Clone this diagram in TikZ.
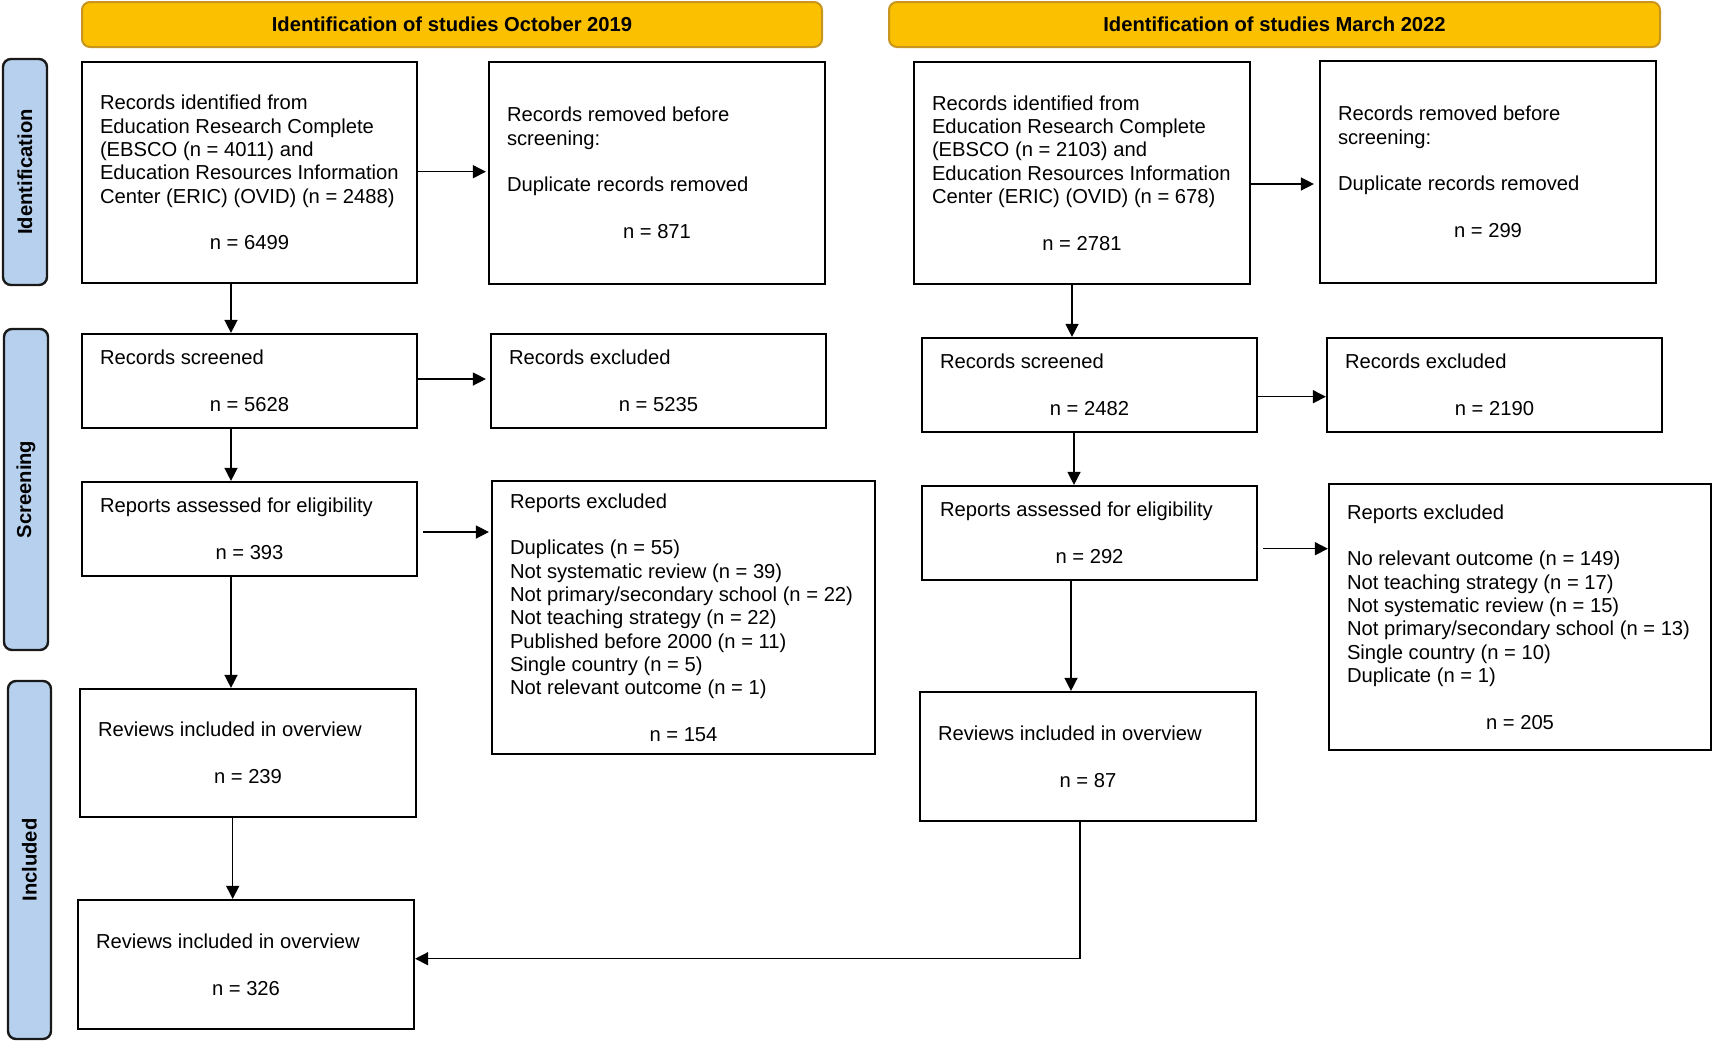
\documentclass[tikz,border=0pt]{standalone}
\usepackage{fontspec}
\setmainfont{Liberation Sans}
\usetikzlibrary{arrows.meta}
\definecolor{hdrfill}{RGB}{251,192,0}
\definecolor{hdrline}{RGB}{200,150,30}
\definecolor{phfill}{RGB}{182,208,238}
\definecolor{phline}{RGB}{25,25,25}
\newcommand\ncount[2]{\makebox[#1]{#2}}
\begin{document}
\begin{tikzpicture}[x=0.5pt,y=-0.5pt,
  bodyfont/.style={font=\fontsize{10.1pt}{11.67pt}\selectfont},
  box/.style={draw=black, line width=1.1pt, align=left, inner xsep=9pt, inner ysep=0pt, bodyfont},
  hdr/.style={draw=hdrline, fill=hdrfill, line width=1pt, rounded corners=4pt, inner sep=0pt,
    font=\bfseries\fontsize{10.1pt}{12pt}\selectfont},
  phase/.style={draw=phline, fill=phfill, line width=1.2pt, rounded corners=4pt, inner sep=0pt,
    rotate=90, font=\bfseries\fontsize{10.1pt}{12pt}\selectfont},
  arr/.style={line width=0.7pt, -{Triangle[length=6.5pt,width=6.5pt]}},
  conn/.style={line width=0.7pt}
]
\useasboundingbox (0,0) rectangle (1713,1041);

% headers
\node[hdr, minimum width=370pt, minimum height=22.5pt] (h1) at (452,24.5) {Identification of studies October 2019};
\node[hdr, minimum width=385.5pt, minimum height=22.5pt] (h2) at (1274.5,24.5) {Identification of studies March 2022};

% phase labels
\node[phase, minimum width=113pt, minimum height=22pt] (p1) at (25,172) {Identification};
\node[phase, minimum width=160.5pt, minimum height=22pt] (p2) at (26,489.5) {Screening};
\node[phase, minimum width=179pt, minimum height=21.5pt] (p3) at (29.5,860) {Included};

% left column
\node[box, minimum width=167.5pt, minimum height=110.5pt] (L1) at (249.5,172.5)
 {Records identified from\\Education Research Complete\\(EBSCO (n = 4011) and\\Education Resources Information\\Center (ERIC) (OVID) (n = 2488)\\[11.67pt]\ncount{149.5pt}{n = 6499}};
\node[box, minimum width=168pt, minimum height=111pt] (L1r) at (657,173)
 {Records removed before\\screening:\\[11.67pt]Duplicate records removed\\[11.67pt]\ncount{150pt}{n = 871}};
\node[box, minimum width=167.5pt, minimum height=47pt] (L2) at (249.5,381)
 {Records screened\\[11.67pt]\ncount{149.5pt}{n = 5628}};
\node[box, minimum width=167.5pt, minimum height=47pt] (L2r) at (658.5,381)
 {Records excluded\\[11.67pt]\ncount{149.5pt}{n = 5235}};
\node[box, minimum width=167.5pt, minimum height=47pt] (L3) at (249.5,529)
 {Reports assessed for eligibility\\[11.67pt]\ncount{149.5pt}{n = 393}};
\node[box, minimum width=191.5pt, minimum height=136.5pt] (L3r) at (683.5,617.5)
 {Reports excluded\\[11.67pt]Duplicates (n = 55)\\Not systematic review (n = 39)\\Not primary/secondary school (n = 22)\\Not teaching strategy (n = 22)\\Published before 2000 (n = 11)\\Single country (n = 5)\\Not relevant outcome (n = 1)\\[11.67pt]\ncount{173.5pt}{n = 154}};
\node[box, minimum width=168pt, minimum height=64pt] (L4) at (248,753)
 {Reviews included in overview\\[11.67pt]\ncount{150pt}{n = 239}};
\node[box, minimum width=168pt, minimum height=64.5pt] (L5) at (246,964.5)
 {Reviews included in overview\\[11.67pt]\ncount{150pt}{n = 326}};

% right column
\node[box, minimum width=168pt, minimum height=111pt] (R1) at (1082,173)
 {Records identified from\\Education Research Complete\\(EBSCO (n = 2103) and\\Education Resources Information\\Center (ERIC) (OVID) (n = 678)\\[11.67pt]\ncount{150pt}{n = 2781}};
\node[box, minimum width=168pt, minimum height=111pt] (R1r) at (1488,172)
 {Records removed before\\screening:\\[11.67pt]Duplicate records removed\\[11.67pt]\ncount{150pt}{n = 299}};
\node[box, minimum width=167.5pt, minimum height=47pt] (R2) at (1089.5,385)
 {Records screened\\[11.67pt]\ncount{149.5pt}{n = 2482}};
\node[box, minimum width=167.5pt, minimum height=47pt] (R2r) at (1494.5,385)
 {Records excluded\\[11.67pt]\ncount{149.5pt}{n = 2190}};
\node[box, minimum width=167.5pt, minimum height=47pt] (R3) at (1089.5,533)
 {Reports assessed for eligibility\\[11.67pt]\ncount{149.5pt}{n = 292}};
\node[box, minimum width=191pt, minimum height=133pt] (R3r) at (1520,617)
 {Reports excluded\\[11.67pt]No relevant outcome (n = 149)\\Not teaching strategy (n = 17)\\Not systematic review (n = 15)\\Not primary/secondary school (n = 13)\\Single country (n = 10)\\Duplicate (n = 1)\\[11.67pt]\ncount{173pt}{n = 205}};
\node[box, minimum width=168pt, minimum height=64.5pt] (R4) at (1088,756.5)
 {Reviews included in overview\\[11.67pt]\ncount{150pt}{n = 87}};

% guide coordinates
\coordinate (xL) at (231,0);
\coordinate (xL4) at (232.7,0);
\coordinate (xR1) at (1072,0);
\coordinate (xR2) at (1074,0);
\coordinate (xR3) at (1071,0);
\coordinate (xR4) at (1080,0);
\coordinate (yA1) at (0,171.7);
\coordinate (yA2) at (0,379);
\coordinate (yA3) at (0,532);
\coordinate (yB1) at (0,184);
\coordinate (yB2) at (0,396.7);
\coordinate (yB3) at (0,548.7);
\coordinate (yC) at (0,958.7);

% horizontal arrows
\draw[arr, shorten >=1pt] (L1.east |- yA1) -- (L1r.west |- yA1);
\draw[arr, shorten >=2pt] (L2.east |- yA2) -- (L2r.west |- yA2);
\draw[arr, shorten <=2.5pt, shorten >=1pt] (L3.east |- yA3) -- (L3r.west |- yA3);
\draw[arr, shorten >=2.5pt] (R1.east |- yB1) -- (R1r.west |- yB1);
\draw[arr] (R2.east |- yB2) -- (R2r.west |- yB2);
\draw[arr, shorten <=2.5pt] (R3.east |- yB3) -- (R3r.west |- yB3);

% vertical arrows
\draw[arr] (L1.south -| xL) -- (L2.north -| xL);
\draw[arr] (L2.south -| xL) -- (L3.north -| xL);
\draw[arr] (L3.south -| xL) -- (L4.north -| xL);
\draw[arr] (L4.south -| xL4) -- (L5.north -| xL4);
\draw[arr] (R1.south -| xR1) -- (R2.north -| xR1);
\draw[arr] (R2.south -| xR2) -- (R3.north -| xR2);
\draw[arr] (R3.south -| xR3) -- (R4.north -| xR3);
\draw[arr] (R4.south -| xR4) |- (L5.east |- yC);
\end{tikzpicture}
\end{document}
